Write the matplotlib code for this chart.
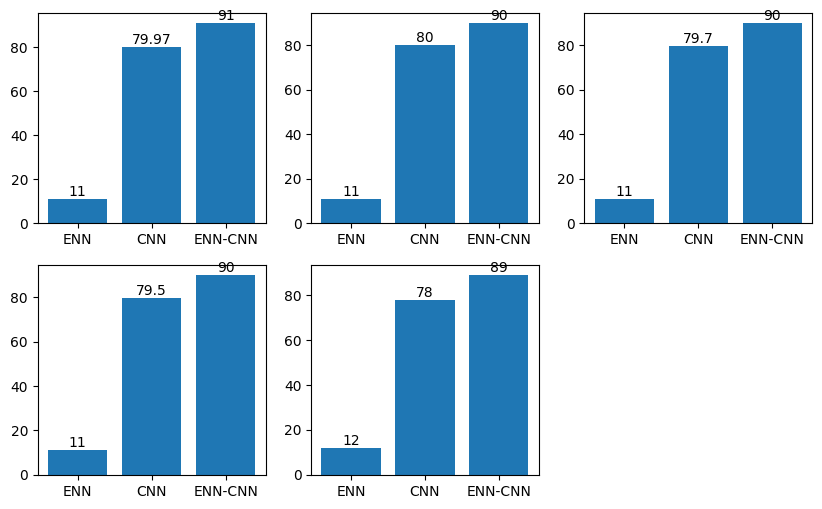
import matplotlib
matplotlib.use('Agg')
import matplotlib.pyplot as plt

models = ['ENN', 'CNN', 'ENN-CNN']
acc_1 = [11, 79.97, 91]
acc_2 = [11, 80, 90]
acc_3 = [11, 79.7, 90]
acc_4 = [11, 79.5, 90]
acc_5 = [12, 78, 89]

results = [acc_1, acc_2, acc_3, acc_4, acc_5]

fig, axs = plt.subplots(2, 3, figsize=(8.22, 5.09), dpi=100)
plt.subplots_adjust(left=0.046, right=0.988, top=0.974, bottom=0.067,
                    wspace=0.2, hspace=0.2)

for ax, vals in zip(axs.flat, results):
    bars = ax.bar(models, vals)
    ax.bar_label(bars, labels=[('%g' % v) for v in vals])

axs[1, 2].axis('off')

plt.savefig('out.png', dpi=100)
